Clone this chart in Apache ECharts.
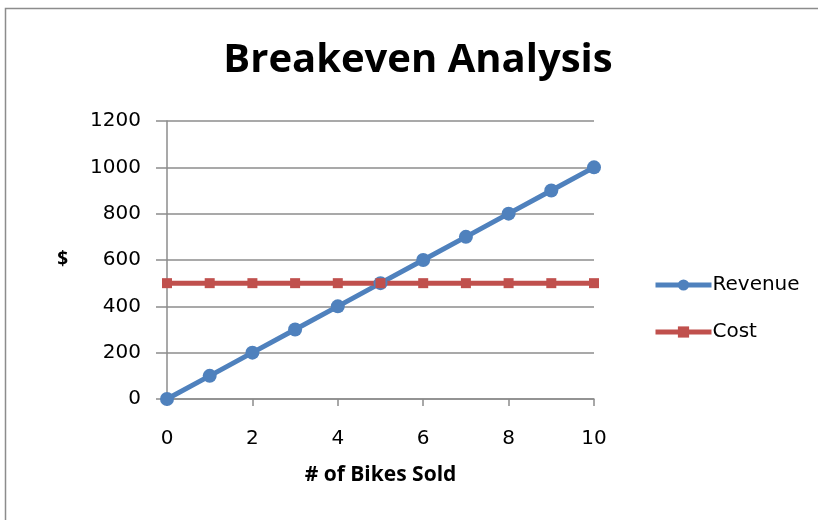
<!DOCTYPE html>
<html>
<head>
<meta charset="utf-8">
<script src="https://cdn.jsdelivr.net/npm/echarts@6/dist/echarts.min.js"></script>
<style>
  html, body { margin: 0; padding: 0; background: #fff; }
  #chart { width: 818px; height: 520px; }
</style>
</head>
<body>
<div id="chart"></div>
<script>
// data
var bikes = [0, 1, 2, 3, 4, 5, 6, 7, 8, 9, 10];
var revenue = [0, 100, 200, 300, 400, 500, 600, 700, 800, 900, 1000];
var cost = [500, 500, 500, 500, 500, 500, 500, 500, 500, 500, 500];

function pairs(xs, ys) {
    return xs.map(function (x, i) { return [x, ys[i]]; });
}

var myChart = echarts.init(document.getElementById('chart'));
var font = '"Open Sans", "DejaVu Sans", sans-serif';
var labelFont = '"DejaVu Sans", sans-serif';

var option = {
    backgroundColor: '#fff',
    animation: false,
    graphic: [{
        type: 'rect',
        shape: { x: 5.5, y: 8.5, width: 830, height: 530 },
        style: { fill: 'none', stroke: '#8c8c8c', lineWidth: 1.5 }
    }],
    title: {
        text: 'Breakeven Analysis',
        left: 413, top: 36, textAlign: 'center',
        textStyle: { fontFamily: font, fontSize: 40, fontWeight: 'bold', color: '#000' }
    },
    legend: {
        orient: 'vertical',
        left: 648, top: 270,
        itemWidth: 56, itemHeight: 14, itemGap: 27,
        lineStyle: { width: 5 },
        textStyle: { fontFamily: labelFont, fontSize: 20, color: '#000', padding: [0, 0, 0, -4] },
        data: ['Revenue', 'Cost']
    },
    grid: { left: 167, right: 224, top: 121, bottom: 121 },
    xAxis: {
        type: 'value', min: 0, max: 10, interval: 2,
        name: '# of Bikes Sold', nameLocation: 'middle', nameGap: 66,
        nameTextStyle: { fontFamily: font, fontSize: 21, fontWeight: 'bold', color: '#000' },
        axisLine: { lineStyle: { color: '#8c8c8c', width: 1.5 } },
        axisTick: { show: true, inside: false, length: 7, lineStyle: { color: '#8c8c8c', width: 1.5 } },
        axisLabel: { fontFamily: labelFont, fontSize: 20, color: '#000', margin: 30 },
        splitLine: { show: false }
    },
    yAxis: {
        type: 'value', min: 0, max: 1200, interval: 200,
        name: '$', nameLocation: 'middle', nameGap: 99, nameRotate: 0,
        nameTextStyle: { fontFamily: font, fontSize: 19, fontWeight: 'bold', color: '#000' },
        axisLine: { show: true, lineStyle: { color: '#8c8c8c', width: 1.5 } },
        axisTick: { show: true, length: 11, lineStyle: { color: '#8c8c8c', width: 1.5 } },
        axisLabel: { fontFamily: labelFont, fontSize: 20, color: '#000', margin: 26, formatter: function (v) { return String(v); } },
        splitLine: { show: true, lineStyle: { color: '#8c8c8c', width: 1.5 } }
    },
    series: [
        {
            name: 'Revenue', type: 'line',
            data: pairs(bikes, revenue),
            color: '#4F81BD',
            lineStyle: { width: 5 },
            symbol: 'circle', symbolSize: 14,
            itemStyle: { color: '#4F81BD' }
        },
        {
            name: 'Cost', type: 'line',
            data: pairs(bikes, cost),
            color: '#C0504D',
            lineStyle: { width: 5 },
            symbol: 'rect', symbolSize: 10,
            itemStyle: { color: '#C0504D' }
        }
    ]
};

myChart.setOption(option);
window.addEventListener('resize', function () { myChart.resize(); });
</script>
</body>
</html>
